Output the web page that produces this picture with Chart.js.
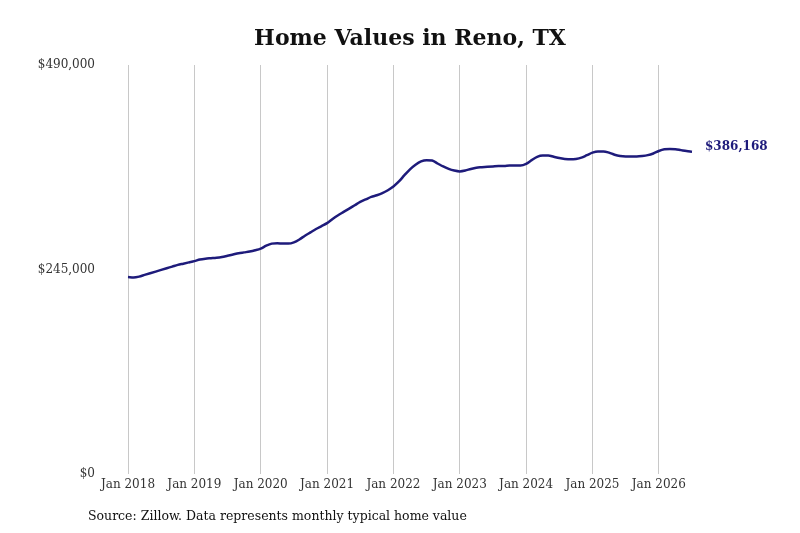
<!DOCTYPE html>
<html>
<head>
<meta charset="utf-8">
<script src="https://cdn.jsdelivr.net/npm/chart.js@4"></script>
<style>
html,body{margin:0;padding:0;background:#fff;}
#wrap{width:800px;height:533px;}
</style>
</head>
<body>
<div id="wrap"><canvas id="c" width="800" height="533"></canvas></div>
<script>
const titleText = 'Home Values in Reno, TX';
const sourceText = 'Source: Zillow. Data represents monthly typical home value';
const startYear = 2018;
const monthNames = ['Jan','Feb','Mar','Apr','May','Jun','Jul','Aug','Sep','Oct','Nov','Dec'];
const yTicks = [0, 245000, 490000];
const homeValues = [
  236000,235500,236500,238500,240500,242500,244500,246500,248500,250500,252000,253500,
  255000,257000,258000,258500,259000,260000,261500,263000,264500,265500,266500,268000,
  270000,273500,276000,276500,276000,276000,277500,281000,285500,289500,293500,297000,
  300500,305500,310000,314000,318000,322000,326000,329000,332000,334000,336500,340000,
  344500,350500,358000,365000,370500,374500,376000,375500,372000,368500,365500,363500,
  362500,363500,365500,367000,367500,368000,368500,369000,369000,369500,369500,369500,
  371500,376000,380000,381500,381500,380000,378500,377500,377000,377500,379000,382000,
  385000,386500,386500,385000,382500,381000,380500,380500,380500,381000,382000,384000,
  387000,389000,389500,389000,388000,387000,386168
];
const monthLabels = homeValues.map((v, i) => monthNames[i % 12] + ' ' + (startYear + Math.floor(i / 12)));

const navy = '#1e1b7b';
const serif = "'DejaVu Serif', serif";
const money = v => '$' + Math.round(v).toLocaleString('en-US');

const extras = {
  id: 'extras',
  afterDraw(chart) {
    const ctx = chart.ctx;
    const area = chart.chartArea;
    ctx.save();
    ctx.fillStyle = '#111';
    ctx.font = 'bold 22px ' + serif;
    ctx.textAlign = 'center';
    ctx.textBaseline = 'middle';
    ctx.fillText(titleText, (area.left + area.right) / 2, 39);
    ctx.font = '12.5px ' + serif;
    ctx.textAlign = 'left';
    ctx.fillStyle = '#111';
    ctx.fillText(sourceText, 88, 517);
    const meta = chart.getDatasetMeta(0);
    const lastPt = meta.data[meta.data.length - 1];
    ctx.font = 'bold 12px ' + serif;
    ctx.fillStyle = navy;
    ctx.fillText(money(homeValues[homeValues.length - 1]), lastPt.x + 13, lastPt.y - 5);
    ctx.restore();
  }
};

new Chart(document.getElementById('c'), {
  type: 'line',
  data: {
    labels: monthLabels,
    datasets: [{
      data: homeValues,
      borderColor: navy,
      borderWidth: 2.5,
      pointRadius: 0,
      fill: false,
      tension: 0.4,
      cubicInterpolationMode: 'monotone'
    }]
  },
  options: {
    responsive: false,
    animation: false,
    devicePixelRatio: 1,
    layout: { padding: { left: 20, right: 108, top: 65, bottom: 29 } },
    plugins: { legend: { display: false }, tooltip: { enabled: false }, title: { display: false } },
    scales: {
      x: {
        type: 'category',
        grid: { display: true, color: '#c8c8c8', lineWidth: 1, drawTicks: false },
        border: { display: false },
        ticks: {
          autoSkip: false,
          maxRotation: 0,
          minRotation: 0,
          padding: 4,
          color: '#333',
          font: { family: serif, size: 12 },
          callback: function(val, idx) { return idx % 12 === 0 ? monthLabels[idx] : null; }
        },
        afterFit(scale) { scale.height = 30; }
      },
      y: {
        min: 0,
        max: 490000,
        grid: { display: false, drawTicks: false },
        border: { display: false },
        afterBuildTicks(scale) { scale.ticks = yTicks.map(v => ({ value: v })); },
        ticks: {
          padding: 33,
          color: '#333',
          font: { family: serif, size: 12 },
          callback: v => money(v)
        },
        afterFit(scale) { scale.width = 108; }
      }
    }
  },
  plugins: [extras]
});
</script>
</body>
</html>
